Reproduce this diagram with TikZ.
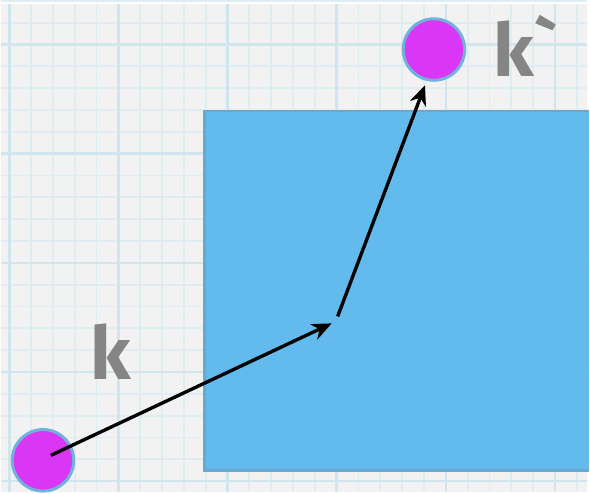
\documentclass[tikz,border=0pt]{standalone}
\usepackage{fontspec}
\newfontfamily\labelfont{Fira Sans}
\usetikzlibrary{arrows.meta}
\definecolor{paper}{HTML}{F2F2F2}
\definecolor{gridline}{HTML}{DFEDF2}
\definecolor{gridmajor}{HTML}{D0E5ED}
\definecolor{slab}{HTML}{5CB8EC}
\definecolor{slabedge}{HTML}{6CA7CE}
\definecolor{particle}{HTML}{D937F5}
\definecolor{ring}{HTML}{70B2DA}
\definecolor{labelgray}{HTML}{858585}
\tikzset{
  particle/.style={circle, fill=particle, draw=ring, line width=1.5pt, minimum size=31pt, inner sep=0pt},
  wavelabel/.style={text=labelgray, font=\labelfont\bfseries\fontsize{37}{37}\selectfont},
  ray/.style={-{Stealth[length=10pt,width=8.5pt]}, line width=1.7pt, black}
}
\begin{document}
\begin{tikzpicture}[x=0.5pt, y=-0.5pt]
    % 背景方格纸
    \fill[paper] (0,0) rectangle (590,492);
    \foreach \i in {0,...,26} {
      \draw[gridline, line width=0.9pt] (8+22*\i,0) -- (8+22*\i,492);
    }
    \foreach \j in {0,...,22} {
      \draw[gridline, line width=0.9pt] (0,-3+22*\j) -- (590,-3+22*\j);
    }
    \foreach \i in {0,5,...,25} {
      \draw[gridmajor, line width=1.3pt] (8+22*\i,0) -- (8+22*\i,492);
    }
    \foreach \j in {2,7,...,22} {
      \draw[gridmajor, line width=1.3pt] (0,-3+22*\j) -- (590,-3+22*\j);
    }

    % 介质方块
    \fill[slab, fill opacity=0.95] (205,108) rectangle (592,470);
    \draw[slabedge, line width=1.3pt] (592,108) -- (205,108) -- (205,470) -- (592,470);

    % 入射与出射粒子
    \node[particle] (kin) at (42,460) {};
    \node[particle] (kout) at (436,46) {};
    \coordinate (start) at (50,455);
    \coordinate (turn1) at (333,322);
    \coordinate (turn2) at (339,315);
    \coordinate (stop) at (427,82);

    % 标签
    \node[wavelabel] (klab) at (110,350) {k};
    \node[wavelabel] (kplab) at (529,42) {k`};

    % 散射路径
    \draw[ray] (start) -- (turn1);
    \draw[ray] (turn2) -- (stop);
\end{tikzpicture}
\end{document}
